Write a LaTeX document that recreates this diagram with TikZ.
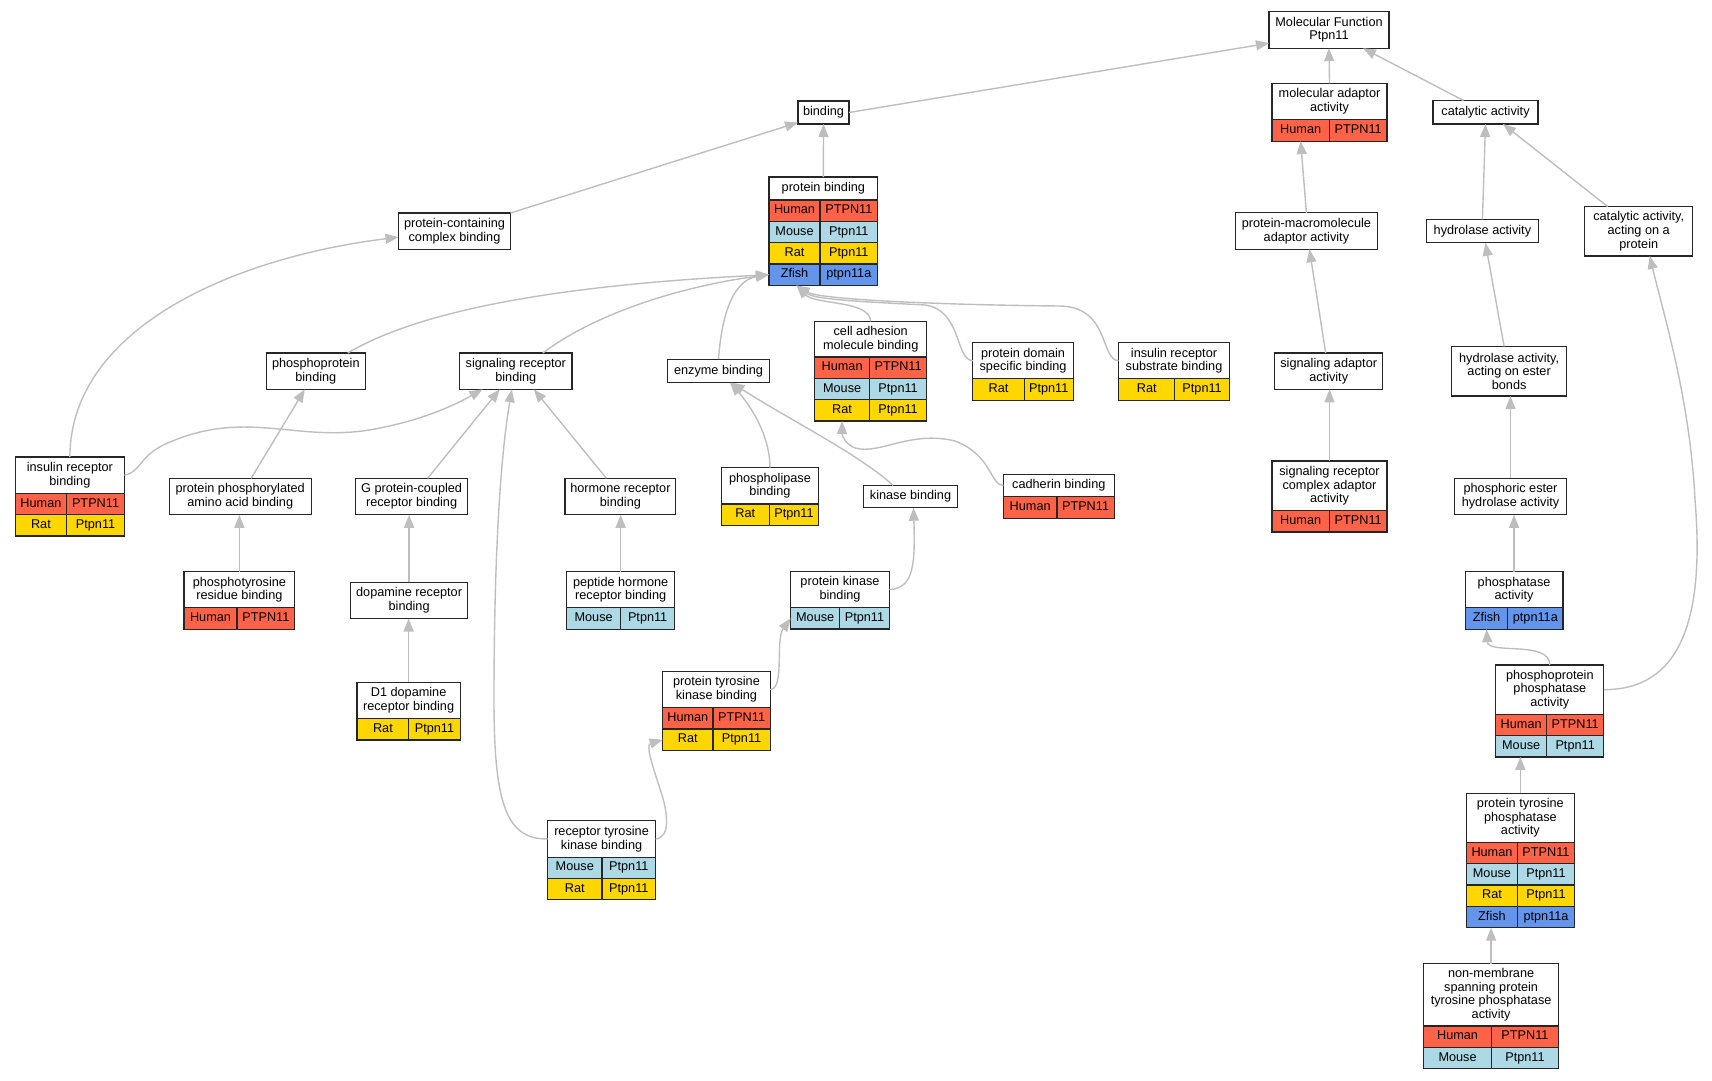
\documentclass[tikz,border=0pt]{standalone}
\usepackage{fontspec}
\setmainfont{Liberation Sans}
\usetikzlibrary{arrows.meta}

\definecolor{hum}{HTML}{FF6347}
\definecolor{mou}{HTML}{ADD8E6}
\definecolor{rat}{HTML}{FFD700}
\definecolor{zfi}{HTML}{6495ED}
\definecolor{edgegray}{HTML}{BEBEBE}

\newcommand\gorow[7]{%
  \node[cell, fill=#5, minimum width=#6pt] (#2) at (#1.south west) {#3};
  \node[cell, fill=#5, minimum width=#7pt] (#2g) at (#2.north east) {#4};}

\begin{document}
\begin{tikzpicture}[x=1pt, y=-1pt,
  term/.style={draw=black!85, line width=1.2pt, fill=white, anchor=north west, align=center,
    inner sep=0pt, outer sep=0pt, font=\fontsize{12.7}{13.7}\selectfont},
  cell/.style={draw=black!85, line width=1.2pt, anchor=north west, inner sep=0pt, outer sep=0pt,
    minimum height=21.35pt, text height=9.2pt, text depth=2.8pt, font=\fontsize{12.7}{13.7}\selectfont},
  isa/.style={draw=edgegray, line width=1.4pt, -{Triangle[length=13pt, width=10pt]}}]
  \useasboundingbox (0,0) rectangle (1712,1080);

  \node[term, minimum width=120pt, minimum height=36.8pt] (mf) at (1269,11.4) {Molecular Function\\Ptpn11};
  \node[term, minimum width=115pt, minimum height=36.5pt] (ma) at (1272,83.3) {molecular adaptor\\activity};
  \gorow{ma}{ma-1}{Human}{PTPN11}{hum}{57.3}{57.7}
  \node[term, minimum width=105pt, minimum height=23.5pt] (ca) at (1433,100.5) {catalytic activity};
  \node[term, minimum width=51pt, minimum height=23pt] (bd) at (798,101) {binding};

  \node[term, minimum width=108.7pt, minimum height=23pt] (pb) at (769,177) {protein binding};
  \gorow{pb}{pb-1}{Human}{PTPN11}{hum}{51}{57.7}
  \gorow{pb-1}{pb-2}{Mouse}{Ptpn11}{mou}{51}{57.7}
  \gorow{pb-2}{pb-3}{Rat}{Ptpn11}{rat}{51}{57.7}
  \gorow{pb-3}{pb-4}{Zfish}{ptpn11a}{zfi}{51}{57.7}
  \node[term, minimum width=112pt, minimum height=36.3pt] (pccb) at (398.5,213) {protein-containing\\complex binding};
  \node[term, minimum width=142pt, minimum height=36.5pt] (pmaa) at (1235.4,212.8) {protein-macromolecule\\adaptor activity};
  \node[term, minimum width=112pt, minimum height=23.4pt] (ha) at (1426.4,219.4) {hydrolase activity};
  \node[term, minimum width=108pt, minimum height=49.3pt] (cap) at (1584.7,206.6) {catalytic activity,\\acting on a\\protein};

  \node[term, minimum width=98.8pt, minimum height=36.3pt] (ppb) at (266.4,353) {phosphoprotein\\binding};
  \node[term, minimum width=112.4pt, minimum height=36.3pt] (srb) at (459.6,353) {signaling receptor\\binding};
  \node[term, minimum width=101.6pt, minimum height=23.4pt] (eb) at (667.7,359.2) {enzyme binding};
  \node[term, minimum width=112pt, minimum height=35.6pt] (cam) at (814.7,321.3) {cell adhesion\\molecule binding};
  \gorow{cam}{cam-1}{Human}{PTPN11}{hum}{54.8}{57.2}
  \gorow{cam-1}{cam-2}{Mouse}{Ptpn11}{mou}{54.8}{57.2}
  \gorow{cam-2}{cam-3}{Rat}{Ptpn11}{rat}{54.8}{57.2}
  \node[term, minimum width=100.5pt, minimum height=36.2pt] (pdsb) at (972.8,342.6) {protein domain\\specific binding};
  \gorow{pdsb}{pdsb-1}{Rat}{Ptpn11}{rat}{51.3}{49.2}
  \node[term, minimum width=110.8pt, minimum height=36.2pt] (irsb) at (1118.6,342.6) {insulin receptor\\substrate binding};
  \gorow{irsb}{irsb-1}{Rat}{Ptpn11}{rat}{56.2}{54.6}
  \node[term, minimum width=108pt, minimum height=36.3pt] (saa) at (1274.7,353) {signaling adaptor\\activity};
  \node[term, minimum width=115.2pt, minimum height=49.6pt] (haeb) at (1451.5,346.4) {hydrolase activity,\\acting on ester\\bonds};

  \node[term, minimum width=109.2pt, minimum height=36.2pt] (irb) at (15.3,457) {insulin receptor\\binding};
  \gorow{irb}{irb-1}{Human}{PTPN11}{hum}{51.3}{57.9}
  \gorow{irb-1}{irb-2}{Rat}{Ptpn11}{rat}{51.3}{57.9}
  \node[term, minimum width=142pt, minimum height=36.5pt] (ppaab) at (169.2,478.3) {protein phosphorylated\\amino acid binding};
  \node[term, minimum width=112.4pt, minimum height=36.5pt] (gpcrb) at (355.4,478.3) {G protein-coupled\\receptor binding};
  \node[term, minimum width=110.8pt, minimum height=36.5pt] (hrb) at (565,478.3) {hormone receptor\\binding};
  \node[term, minimum width=97.5pt, minimum height=36.3pt] (plb) at (721.2,467.7) {phospholipase\\binding};
  \gorow{plb}{plb-1}{Rat}{Ptpn11}{rat}{48.1}{49.4}
  \node[term, minimum width=93.6pt, minimum height=22.4pt] (kb) at (863.7,485.3) {kinase binding};
  \node[term, minimum width=110.8pt, minimum height=22.4pt] (cb) at (1003.4,474.4) {cadherin binding};
  \gorow{cb}{cb-1}{Human}{PTPN11}{hum}{53.5}{57.3}
  \node[term, minimum width=115pt, minimum height=49.7pt] (srcaa) at (1272,461) {signaling receptor\\complex adaptor\\activity};
  \gorow{srcaa}{srcaa-1}{Human}{PTPN11}{hum}{57.3}{57.7}
  \node[term, minimum width=112.4pt, minimum height=36.5pt] (pehy) at (1454.3,478.3) {phosphoric ester\\hydrolase activity};

  \node[term, minimum width=110.8pt, minimum height=36.1pt] (ptrb) at (184,571.7) {phosphotyrosine\\residue binding};
  \gorow{ptrb}{ptrb-1}{Human}{PTPN11}{hum}{53}{57.8}
  \node[term, minimum width=117.4pt, minimum height=36.1pt] (drb) at (350.4,582.4) {dopamine receptor\\binding};
  \node[term, minimum width=108.1pt, minimum height=36.1pt] (phrb) at (566.6,571.7) {peptide hormone\\receptor binding};
  \gorow{phrb}{phrb-1}{Mouse}{Ptpn11}{mou}{54}{54.1}
  \node[term, minimum width=98.6pt, minimum height=36.4pt] (pkb) at (790.7,571.3) {protein kinase\\binding};
  \gorow{pkb}{pkb-1}{Mouse}{Ptpn11}{mou}{49}{49.6}
  \node[term, minimum width=97.7pt, minimum height=36.1pt] (pa) at (1465.2,571.7) {phosphatase\\activity};
  \gorow{pa}{pa-1}{Zfish}{ptpn11a}{zfi}{42.6}{55.1}

  \node[term, minimum width=103.2pt, minimum height=36.5pt] (d1) at (357,682.2) {D1 dopamine\\receptor binding};
  \gorow{d1}{d1-1}{Rat}{Ptpn11}{rat}{51.8}{51.4}
  \node[term, minimum width=107.5pt, minimum height=36.5pt] (ptkb) at (662.7,671.2) {protein tyrosine\\kinase binding};
  \gorow{ptkb}{ptkb-1}{Human}{PTPN11}{hum}{50.2}{57.3}
  \gorow{ptkb-1}{ptkb-2}{Rat}{Ptpn11}{rat}{50.2}{57.3}
  \node[term, minimum width=108pt, minimum height=49.2pt] (ppa) at (1495.8,665) {phosphoprotein\\phosphatase\\activity};
  \gorow{ppa}{ppa-1}{Human}{PTPN11}{hum}{50.7}{57.3}
  \gorow{ppa-1}{ppa-2}{Mouse}{Ptpn11}{mou}{50.7}{57.3}

  \node[term, minimum width=108.1pt, minimum height=36.5pt] (rtkb) at (547.5,820.6) {receptor tyrosine\\kinase binding};
  \gorow{rtkb}{rtkb-1}{Mouse}{Ptpn11}{mou}{54.5}{53.6}
  \gorow{rtkb-1}{rtkb-2}{Rat}{Ptpn11}{rat}{54.5}{53.6}
  \node[term, minimum width=108.1pt, minimum height=49.2pt] (ptpa) at (1466.3,793.1) {protein tyrosine\\phosphatase\\activity};
  \gorow{ptpa}{ptpa-1}{Human}{PTPN11}{hum}{51.3}{56.8}
  \gorow{ptpa-1}{ptpa-2}{Mouse}{Ptpn11}{mou}{51.3}{56.8}
  \gorow{ptpa-2}{ptpa-3}{Rat}{Ptpn11}{rat}{51.3}{56.8}
  \gorow{ptpa-3}{ptpa-4}{Zfish}{ptpn11a}{zfi}{51.3}{56.8}
  \node[term, minimum width=134.8pt, minimum height=62.3pt] (nmpa) at (1423.7,963.6) {non-membrane\\spanning protein\\tyrosine phosphatase\\activity};
  \gorow{nmpa}{nmpa-1}{Human}{PTPN11}{hum}{67.7}{67.1}
  \gorow{nmpa-1}{nmpa-2}{Mouse}{Ptpn11}{mou}{67.7}{67.1}

  \draw[isa] (bd.east) -- ([yshift=5pt]mf.south west);
  \draw[isa] (ma.north) -- (mf.south);
  \draw[isa] ([xshift=-22pt]ca.north) -- ([xshift=34pt]mf.south);
  \draw[isa] (pb.north) -- (bd.south);
  \draw[isa] (pccb.north east) -- ([yshift=1.5pt]bd.south west);
  \draw[isa] (irb.north) .. controls (70,330) and (230,258) .. ([yshift=-6pt]pccb.west);
  \draw[isa] ([xshift=32pt]ppb.north) .. controls (420,310) and (560,285) .. (pb-4.west);
  \draw[isa] ([xshift=27pt]srb.north) .. controls (600,310) and (690,285) .. (pb-4.west);
  \draw[isa] (eb.north) .. controls (722,310) and (735,280) .. (pb-4.west);
  \draw[isa] (cam.north) .. controls (870,300) and (815,305) .. ([xshift=2pt]pb-4.south);
  \draw[isa] (pdsb.west) .. controls (955,360) and (962,310) .. (925,305) .. controls (870,302) and (815,300) .. ([xshift=2pt]pb-4.south);
  \draw[isa] (irsb.west) .. controls (1100,360) and (1110,307) .. (1060,306) .. controls (950,305) and (820,300) .. ([xshift=2pt]pb-4.south);
  \draw[isa] (irb.east) .. controls (142,472) and (138,455) .. (170,442) .. controls (250,408) and (300,445) .. (380,428) .. controls (430,418) and (460,402) .. ([xshift=23pt]srb.south west);
  \draw[isa] ([xshift=11pt]ppaab.north) -- ([xshift=-11pt]ppb.south);
  \draw[isa] ([xshift=16pt]gpcrb.north) -- ([xshift=-16pt]srb.south);
  \draw[isa] (rtkb.west) .. controls (505,840) and (494,800) .. (494,700) .. controls (494,560) and (500,460) .. ([xshift=-4pt]srb.south);
  \draw[isa] ([xshift=-14pt]hrb.north) -- ([xshift=18pt]srb.south);
  \draw[isa] (plb.north) .. controls (770,435) and (750,405) .. ([xshift=11.5pt]eb.south);
  \draw[isa] ([xshift=-17.5pt]kb.north) .. controls (860,455) and (790,420) .. ([xshift=13pt]eb.south);
  \draw[isa] (cb.west) .. controls (990,485) and (992,455) .. (955,441) .. controls (910,430) and (880,455) .. (855,448) .. controls (845,444) and (842,435) .. (cam-3.south);
  \draw[isa] (ptrb.north) -- (ptrb.north |- ppaab.south);
  \draw[isa] (drb.north) -- (drb.north |- gpcrb.south);
  \draw[isa] (d1.north) -- (d1.north |- drb.south);
  \draw[isa] (phrb.north) -- (phrb.north |- hrb.south);
  \draw[isa] (pkb.east) .. controls (915,589) and (915,560) .. ([xshift=3pt]kb.south);
  \draw[isa] (ptkb.east) .. controls (785,689) and (775,640) .. (pkb-1.west);
  \draw[isa] (rtkb.east) .. controls (670,838) and (668,815) .. (662,795) .. controls (654,770) and (645,745) .. (ptkb-2.west);
  \draw[isa] (pmaa.north) -- (ma-1.south);
  \draw[isa] ([xshift=-3pt]saa.north) -- ([xshift=3pt]pmaa.south);
  \draw[isa] (srcaa.north) -- (srcaa.north |- saa.south);
  \draw[isa] (ha.north) -- (ca.south);
  \draw[isa] ([xshift=-31pt]cap.north) -- ([xshift=17.5pt]ca.south);
  \draw[isa] ([xshift=-5pt]haeb.north) -- ([xshift=3pt]ha.south);
  \draw[isa] (pehy.north) -- (pehy.north |- haeb.south);
  \draw[isa] (pa.north) -- (pa.north |- pehy.south);
  \draw[isa] (ppa.north) .. controls (1550,640) and (1488,655) .. (pa-1.south);
  \draw[isa] (ppa.east) .. controls (1680,690) and (1705,620) .. (1695,500) .. controls (1690,400) and (1665,320) .. ([xshift=11pt]cap.south);
  \draw[isa] (ptpa.north) -- (ptpa.north |- ppa-2.south);
  \draw[isa] (nmpa.north) -- (nmpa.north |- ptpa-4.south);
\end{tikzpicture}
\end{document}
